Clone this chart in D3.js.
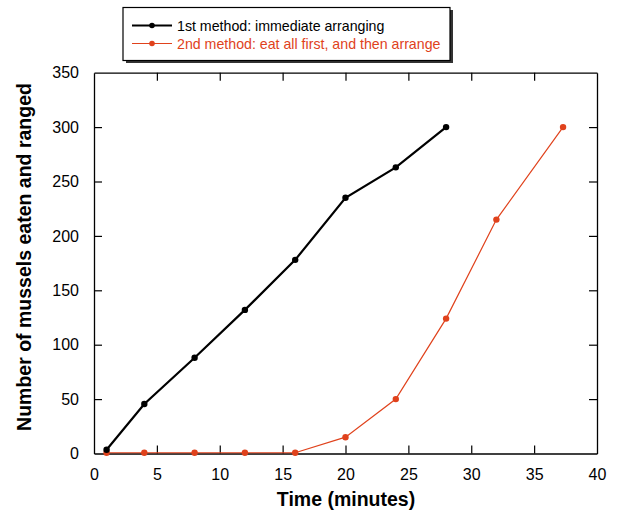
<!DOCTYPE html>
<html><head><meta charset="utf-8">
<script src="https://cdn.jsdelivr.net/npm/d3@7"></script>
<style>body{margin:0;background:#fff;} svg{display:block;font-family:"Liberation Sans",Arial,sans-serif;}</style>
</head><body><svg id="c" width="619" height="513"></svg>
<script>
const seriesNames = ["1st method: immediate arranging", "2nd method: eat all first, and then arrange"];
const time1 = [1, 4, 8, 12, 16, 20, 24, 28];
const values1 = [3.5, 45.5, 88, 132, 178, 235, 263, 300];
const time2 = [1, 4, 8, 12, 16, 20, 24, 28, 32, 37.3];
const values2 = [0.7, 0.7, 0.7, 0.7, 0.7, 15, 50, 124, 215, 300];
const xTicks = [0, 5, 10, 15, 20, 25, 30, 35, 40];
const yTicks = [0, 50, 100, 150, 200, 250, 300, 350];
const colors = ["#000000", "#e0421c"];

const svg = d3.select("#c");
const L = 94, R = 597, T = 72.7, B = 453.5;
const x = d3.scaleLinear().domain([0, 40]).range([L, R]);
const y = d3.scaleLinear().domain([0, 350]).range([B, T]);

const tl = 8;
const axB = svg.append("g").attr("transform", `translate(0,${B})`)
  .call(d3.axisBottom(x).tickValues(xTicks).tickSizeInner(-tl).tickSizeOuter(0).tickPadding(15));
const axT = svg.append("g").attr("transform", `translate(0,${T})`)
  .call(d3.axisTop(x).tickValues(xTicks).tickSizeInner(-tl).tickSizeOuter(0).tickFormat(""));
const axL = svg.append("g").attr("transform", `translate(${L},0)`)
  .call(d3.axisLeft(y).tickValues(yTicks).tickSizeInner(-tl).tickSizeOuter(0).tickPadding(15));
const axR = svg.append("g").attr("transform", `translate(${R},0)`)
  .call(d3.axisRight(y).tickValues(yTicks).tickSizeInner(-tl).tickSizeOuter(0).tickFormat(""));
[axB, axT, axL, axR].forEach(a => {
  a.selectAll("path.domain").attr("stroke", "#000").attr("stroke-width", 1.3);
  a.selectAll(".tick line").attr("stroke", "#000").attr("stroke-width", 1.2);
  a.selectAll(".tick text").attr("fill", "#000").style("font-size", "16px").style("font-family", '"Liberation Sans",Arial,sans-serif');
});
axB.selectAll(".tick").filter(d => d === 0 || d === 40).select("line").remove();
axT.selectAll(".tick").filter(d => d === 0 || d === 40).select("line").remove();
axL.selectAll(".tick").filter(d => d === 0 || d === 350).select("line").remove();
axR.selectAll(".tick").filter(d => d === 0 || d === 350).select("line").remove();

const line = d3.line().x(d => x(d[0])).y(d => y(d[1]));
const s1 = time1.map((t, i) => [t, values1[i]]);
const s2 = time2.map((t, i) => [t, values2[i]]);
svg.append("path").datum(s2).attr("d", line).attr("fill", "none").attr("stroke", colors[1]).attr("stroke-width", 1.2);
svg.append("path").datum(s1).attr("d", line).attr("fill", "none").attr("stroke", colors[0]).attr("stroke-width", 2.2);
svg.selectAll(".p2").data(s2).enter().append("circle").attr("cx", d => x(d[0])).attr("cy", d => y(d[1])).attr("r", 3.2).attr("fill", colors[1]);
svg.selectAll(".p1").data(s1).enter().append("circle").attr("cx", d => x(d[0])).attr("cy", d => y(d[1])).attr("r", 3.2).attr("fill", colors[0]);

svg.append("text").attr("x", 346).attr("y", 506).attr("text-anchor", "middle")
  .style("font-size", "19.5px").style("font-weight", "bold").text("Time (minutes)");
svg.append("text").attr("transform", "translate(31,257) rotate(-90)").attr("text-anchor", "middle")
  .style("font-size", "19.5px").style("font-weight", "bold").text("Number of mussels eaten and ranged");

const lg = svg.append("g");
lg.append("rect").attr("x", 126).attr("y", 10).attr("width", 327).attr("height", 53).attr("fill", "#333");
lg.append("rect").attr("x", 123).attr("y", 7.5).attr("width", 327).attr("height", 53).attr("fill", "#fff").attr("stroke", "#000").attr("stroke-width", 1.2);
seriesNames.forEach((n, i) => {
  const yy = 25.5 + i * 18;
  lg.append("line").attr("x1", 132).attr("x2", 172).attr("y1", yy).attr("y2", yy).attr("stroke", colors[i]).attr("stroke-width", i === 0 ? 2.2 : 1.2);
  lg.append("circle").attr("cx", 152).attr("cy", yy).attr("r", 2.8).attr("fill", colors[i]);
  lg.append("text").attr("x", 177).attr("y", yy + 5.2).attr("fill", colors[i]).style("font-size", "14.2px").text(n);
});
</script></body></html>
